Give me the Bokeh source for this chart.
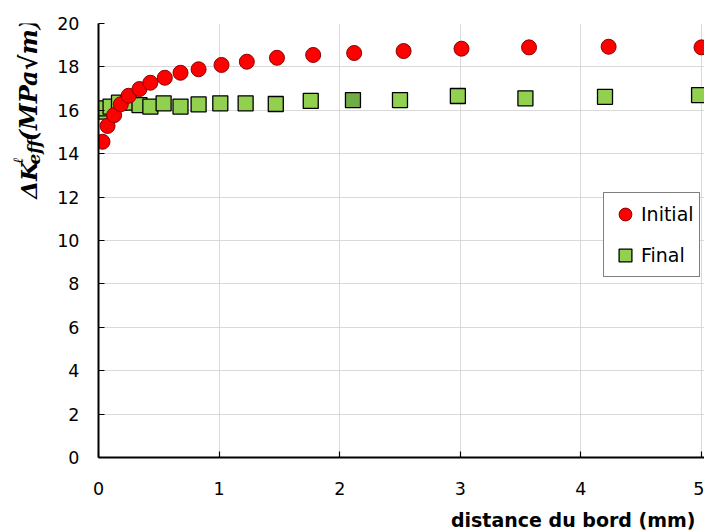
import math
from bokeh.plotting import figure
from bokeh.layouts import column, row
from bokeh.models import Range1d, FixedTicker, Legend, LegendItem, Label, ColumnDataSource
from bokeh.embed import file_html
from bokeh.resources import INLINE

# ---- data ----
initial_x = [0.033, 0.075, 0.13, 0.185, 0.25, 0.34, 0.43, 0.55, 0.68, 0.83,
             1.02, 1.23, 1.48, 1.78, 2.12, 2.53, 3.01, 3.57, 4.23, 5.0]
initial_y = [14.55, 15.28, 15.78, 16.28, 16.67, 16.98, 17.27, 17.5, 17.73, 17.89,
             18.09, 18.24, 18.42, 18.55, 18.64, 18.73, 18.84, 18.9, 18.93, 18.9]
final_x = [0.01, 0.05, 0.10, 0.17, 0.25, 0.34, 0.43, 0.54, 0.68, 0.83,
           1.01, 1.22, 1.47, 1.76, 2.11, 2.50, 2.98, 3.54, 4.20, 4.98]
final_y = [15.94, 16.09, 16.17, 16.35, 16.35, 16.24, 16.17, 16.32, 16.17, 16.27,
           16.32, 16.32, 16.29, 16.43, 16.47, 16.47, 16.66, 16.55, 16.62, 16.7]
highlight_index = 14  # point drawn in darker green
x_ticks = [0, 1, 2, 3, 4, 5]
y_ticks = [0, 2, 4, 6, 8, 10, 12, 14, 16, 18, 20]
series_names = ["Initial", "Final"]
x_title = "distance du bord (mm)"

TOP_H = 505
LAB_W = 51
BORDER_L = 47
UI_FONT = "DejaVu Sans"

# ---- main chart ----
p = figure(width=704 - LAB_W, height=TOP_H,
           x_range=Range1d(0, 5.025), y_range=Range1d(0, 20),
           output_backend="svg", toolbar_location=None,
           min_border_left=BORDER_L, min_border_right=0,
           min_border_top=23, min_border_bottom=TOP_H - 23 - 434)
p.outline_line_color = None
p.background_fill_color = "white"
p.border_fill_color = "white"

for ax, ticks in ((p.xaxis[0], x_ticks), (p.yaxis[0], y_ticks)):
    ax.ticker = FixedTicker(ticks=ticks)
    ax.axis_line_color = "black"
    ax.axis_line_width = 2
    ax.major_tick_in = 6
    ax.major_tick_out = 0
    ax.major_tick_line_color = "black"
    ax.major_tick_line_width = 1.2
    ax.minor_tick_line_color = None
    ax.major_label_text_font = UI_FONT
    ax.major_label_text_font_size = "17.5px"
    ax.major_label_text_color = "black"
p.xaxis[0].major_label_standoff = 24
p.yaxis[0].major_label_standoff = 19

p.xgrid.grid_line_color = "#D9D9D9"
p.ygrid.grid_line_color = "#D9D9D9"

fin_src = ColumnDataSource(dict(x=[v for i, v in enumerate(final_x) if i != highlight_index],
                                y=[v for i, v in enumerate(final_y) if i != highlight_index]))
hi_src = ColumnDataSource(dict(x=[final_x[highlight_index]], y=[final_y[highlight_index]]))

r_fin = p.scatter("x", "y", source=fin_src, marker="square", size=15,
                  fill_color="#92D050", line_color="black", line_width=1.3)
p.scatter("x", "y", source=hi_src, marker="square", size=15,
          fill_color="#70AD47", line_color="black", line_width=1.3)
r_init = p.scatter(initial_x, initial_y, marker="circle", size=15,
                   fill_color="#FF0000", line_color="#8B0000", line_width=1)

legend = Legend(items=[LegendItem(label=series_names[0], renderers=[r_init]),
                       LegendItem(label=series_names[1], renderers=[r_fin])],
                location=(505, 180), orientation="vertical",
                glyph_width=32, glyph_height=32, label_height=32, label_width=20,
                label_standoff=0, padding=5, spacing=9, margin=0,
                label_text_font=UI_FONT, label_text_font_size="19px",
                label_text_color="black",
                border_line_color="black", border_line_width=1.5,
                background_fill_color="white", background_fill_alpha=1)
p.add_layout(legend)

# ---- y-axis title panel (coordinates = page pixels) ----
ylab = figure(width=LAB_W, height=TOP_H, x_range=Range1d(0, LAB_W), y_range=Range1d(TOP_H, 0),
              output_backend="svg", toolbar_location=None,
              x_axis_type=None, y_axis_type=None, min_border=0)
ylab.outline_line_color = None
ylab.grid.visible = False
ylab.border_fill_color = "white"
yl_font = "DejaVu Serif"
pieces = [
    ("\u0394K", 28, 204, "23px"),
    ("eff", 33, 164, "17px"),
    ("\u2113", 17, 163, "14px"),
    ("(MPa\u221am)", 28, 137, "24px"),
]
for txt, mx, sy, fs in pieces:
    ylab.add_layout(Label(x=mx, y=sy, text=txt, angle=math.pi / 2,
                          text_align="left", text_baseline="middle",
                          text_font=yl_font, text_font_style="bold italic",
                          text_font_size=fs, text_color="black"))

# ---- x-axis title panel ----
xt_h = 531 - TOP_H
xt = figure(width=704, height=xt_h, x_range=Range1d(0, 704), y_range=Range1d(xt_h, 0),
            output_backend="svg", toolbar_location=None,
            x_axis_type=None, y_axis_type=None, min_border=0)
xt.outline_line_color = None
xt.grid.visible = False
xt.border_fill_color = "white"
xt.add_layout(Label(x=695, y=519 - TOP_H, text=x_title, text_align="right",
                    text_baseline="middle", text_font=UI_FONT,
                    text_font_style="bold", text_font_size="19px", text_color="black"))

layout = column(row(ylab, p, spacing=0), xt, spacing=0)
open("out.html", "w").write(file_html(layout, INLINE))
